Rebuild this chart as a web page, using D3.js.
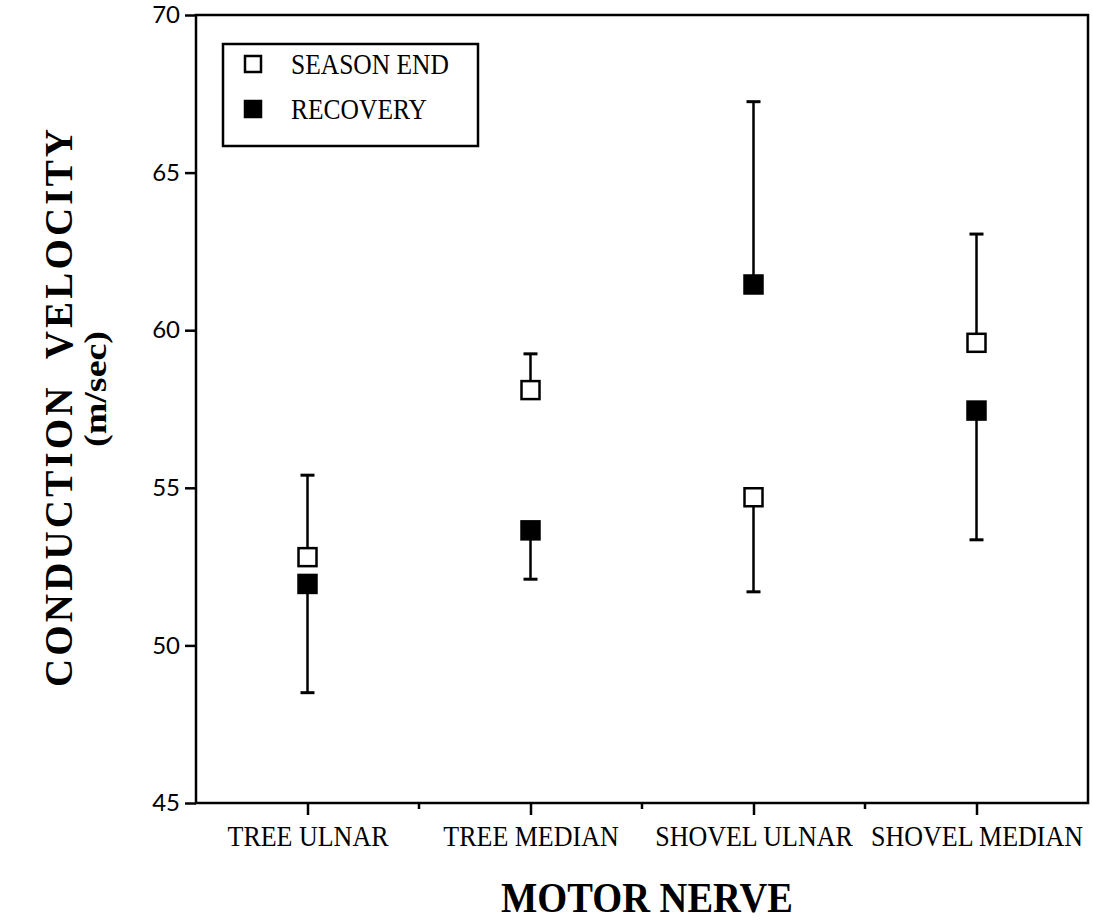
<!DOCTYPE html>
<html>
<head>
<meta charset="utf-8">
<script src="https://cdn.jsdelivr.net/npm/d3@7"></script>
<style>
  body { margin: 0; background: #fff; }
  svg { display: block; }
</style>
</head>
<body>
<div id="root"></div>
<script>
// values (m/sec)
const categories = ["TREE ULNAR", "TREE MEDIAN", "SHOVEL ULNAR", "SHOVEL MEDIAN"];
const seasonEnd = [52.8, 58.1, 54.7, 59.6];
const seasonEndSD = [2.6, 1.15, 3.0, 3.45];
const recovery = [51.95, 53.65, 61.45, 57.45];
const recoverySD = [3.45, 1.55, 5.8, 4.1];
const yTicks = [45, 50, 55, 60, 65, 70];
const legendLabels = ["SEASON END", "RECOVERY"];

const W = 1093, H = 923;
const margin = { top: 15, right: 5, bottom: 120, left: 196 };
const serif = "'Liberation Serif', 'Times New Roman', serif";
const sans = "Lato, 'Liberation Sans', sans-serif";
const markerSize = 18;
const capWidth = 14;
const stretch = 1.12; // the scanned figure is a bit taller than wide

const svg = d3.select("#root").append("svg")
  .attr("width", W)
  .attr("height", H)
  .attr("viewBox", `0 0 ${W} ${H}`);

const x = d3.scaleBand()
  .domain(categories)
  .range([margin.left, W - margin.right]);

const xPoint = d3.scalePoint()
  .domain(categories)
  .range([margin.left, W - margin.right])
  .padding(0.5);

const y = d3.scaleLinear()
  .domain([45, 70])
  .range([H - margin.bottom, margin.top]);

// frame
svg.append("rect")
  .attr("x", margin.left)
  .attr("y", margin.top)
  .attr("width", W - margin.right - margin.left)
  .attr("height", H - margin.bottom - margin.top)
  .attr("fill", "none")
  .attr("stroke", "#000")
  .attr("stroke-width", 2.5);

// y axis
const yAxis = svg.append("g")
  .attr("transform", `translate(${margin.left},0)`)
  .call(d3.axisLeft(y).tickValues(yTicks).tickSize(11).tickPadding(5));
yAxis.select(".domain").remove();
yAxis.selectAll(".tick line").attr("stroke-width", 2.5);
yAxis.selectAll(".tick text")
  .attr("font-family", sans)
  .attr("font-size", 24)
  .attr("fill", "#000");

// x axis
const xAxis = svg.append("g")
  .attr("transform", `translate(0,${H - margin.bottom})`)
  .call(d3.axisBottom(xPoint).tickSize(12).tickPadding(8));
xAxis.select(".domain").remove();
xAxis.selectAll(".tick line").attr("stroke-width", 2.5);
xAxis.selectAll(".tick text")
  .attr("font-family", serif)
  .attr("font-size", 26)
  .attr("transform", `scale(1,${stretch})`)
  .attr("fill", "#000");

// small ticks between categories
svg.append("g")
  .selectAll("line")
  .data(categories.slice(1))
  .join("line")
  .attr("x1", d => x(d))
  .attr("x2", d => x(d))
  .attr("y1", H - margin.bottom)
  .attr("y2", H - margin.bottom + 6)
  .attr("stroke", "#000")
  .attr("stroke-width", 2.5);

// one-sided SD bars point away from the other group's mean
const series = [
  { means: seasonEnd, sds: seasonEndSD, other: recovery, fill: "#fff" },
  { means: recovery, sds: recoverySD, other: seasonEnd, fill: "#000" },
];

series.forEach(s => {
  const pts = categories.map((c, i) => {
    const dir = s.means[i] >= s.other[i] ? 1 : -1;
    return { c, mean: s.means[i], end: s.means[i] + dir * s.sds[i] };
  });
  const g = svg.append("g");

  g.selectAll("line.bar")
    .data(pts)
    .join("line")
    .attr("class", "bar")
    .attr("x1", d => xPoint(d.c))
    .attr("x2", d => xPoint(d.c))
    .attr("y1", d => y(d.mean))
    .attr("y2", d => y(d.end))
    .attr("stroke", "#000")
    .attr("stroke-width", 2.5);

  g.selectAll("line.cap")
    .data(pts)
    .join("line")
    .attr("class", "cap")
    .attr("x1", d => xPoint(d.c) - capWidth / 2)
    .attr("x2", d => xPoint(d.c) + capWidth / 2)
    .attr("y1", d => y(d.end))
    .attr("y2", d => y(d.end))
    .attr("stroke", "#000")
    .attr("stroke-width", 3);

  g.selectAll("rect")
    .data(pts)
    .join("rect")
    .attr("x", d => xPoint(d.c) - markerSize / 2)
    .attr("y", d => y(d.mean) - markerSize / 2)
    .attr("width", markerSize)
    .attr("height", markerSize)
    .attr("fill", s.fill)
    .attr("stroke", "#000")
    .attr("stroke-width", 2.5);
});

// legend
const legend = svg.append("g");
legend.append("rect")
  .attr("x", 223)
  .attr("y", 44)
  .attr("width", 255)
  .attr("height", 102)
  .attr("fill", "#fff")
  .attr("stroke", "#000")
  .attr("stroke-width", 2.5);

legendLabels.forEach((label, i) => {
  const cy = 64 + i * 45;
  legend.append("rect")
    .attr("x", 253 - 8)
    .attr("y", cy - 8)
    .attr("width", 16)
    .attr("height", 16)
    .attr("fill", series[i].fill)
    .attr("stroke", "#000")
    .attr("stroke-width", 2.5);
  legend.append("text")
    .attr("transform", `translate(291,${cy + 10}) scale(1,${stretch})`)
    .attr("font-family", serif)
    .attr("font-size", 25.5)
    .text(label);
});

// axis titles
svg.append("text")
  .attr("transform", `translate(${(margin.left + W - margin.right) / 2 + 5},912) scale(1,${stretch})`)
  .attr("text-anchor", "middle")
  .attr("font-family", serif)
  .attr("font-weight", "bold")
  .attr("font-size", 38.5)
  .text("MOTOR NERVE");

svg.append("text")
  .attr("transform", "translate(72,408) rotate(-90)")
  .attr("text-anchor", "middle")
  .attr("font-family", serif)
  .attr("font-weight", "bold")
  .attr("font-size", 39)
  .attr("textLength", 558)
  .attr("lengthAdjust", "spacing")
  .attr("xml:space", "preserve")
  .style("white-space", "pre")
  .text("CONDUCTION  VELOCITY");

svg.append("text")
  .attr("transform", "translate(106,389) rotate(-90)")
  .attr("text-anchor", "middle")
  .attr("font-family", serif)
  .attr("font-weight", "bold")
  .attr("font-size", 32)
  .attr("textLength", 116)
  .attr("lengthAdjust", "spacingAndGlyphs")
  .text("(m/sec)");
</script>
</body>
</html>
